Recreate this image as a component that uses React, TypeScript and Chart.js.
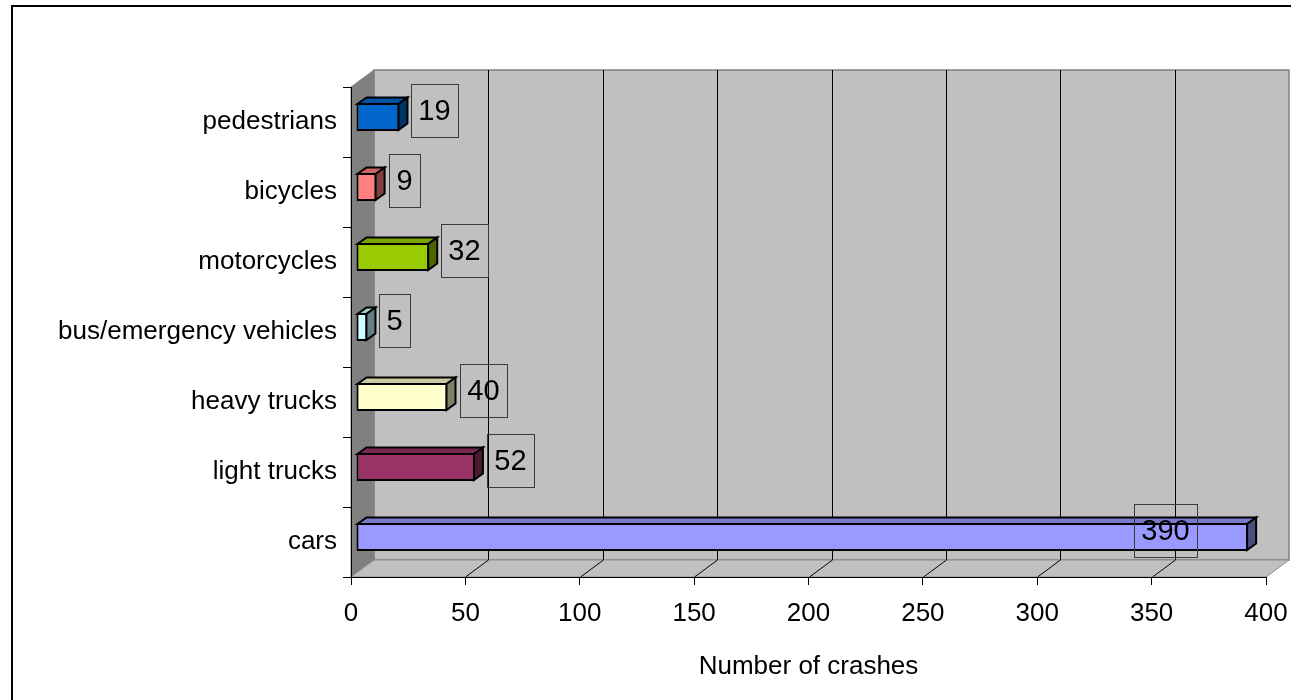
import React, { useEffect, useRef } from 'react';
import { Chart, registerables } from 'chart.js';

Chart.register(...registerables);

// Crash counts by road-user type
const categories = [
  'pedestrians',
  'bicycles',
  'motorcycles',
  'bus/emergency vehicles',
  'heavy trucks',
  'light trucks',
  'cars',
];
const crashes = [19, 9, 32, 5, 40, 52, 390];
const xMin = 0;
const xMax = 400;
const xStep = 50;
const xTitle = 'Number of crashes';

// Front-face colour of each bar
const palette = ['#0066CC', '#FF8080', '#99CC00', '#CCFFFF', '#FFFFCC', '#993366', '#9999FF'];

const FONT = "'Liberation Sans', Arial, Helvetica, sans-serif";
const WALL = { dx: 23, dy: -17 }; // depth of the 3-D box
const BAR_SHIFT = { dx: 5, dy: -5 }; // bars sit a little behind the front plane
const BAR_DEPTH = { dx: 9, dy: -6.5 }; // thickness of each bar in depth

function shade(hex: string, f: number): string {
  const n = parseInt(hex.slice(1), 16);
  const r = Math.round(((n >> 16) & 255) * f);
  const g = Math.round(((n >> 8) & 255) * f);
  const b = Math.round((n & 255) * f);
  return `rgb(${r},${g},${b})`;
}

function poly(ctx: CanvasRenderingContext2D, pts: number[][], fill: string | null, stroke: string | null, lw = 1) {
  ctx.beginPath();
  ctx.moveTo(pts[0][0], pts[0][1]);
  for (let i = 1; i < pts.length; i++) ctx.lineTo(pts[i][0], pts[i][1]);
  ctx.closePath();
  if (fill) {
    ctx.fillStyle = fill;
    ctx.fill();
  }
  if (stroke) {
    ctx.strokeStyle = stroke;
    ctx.lineWidth = lw;
    ctx.stroke();
  }
}

const scenePlugin = {
  id: 'scene3d',
  beforeDraw(chart: any) {
    const { ctx, chartArea: a, scales } = chart;
    const xs = scales.x;
    const { dx, dy } = WALL;
    ctx.save();
    ctx.fillStyle = '#ffffff';
    ctx.fillRect(0, 0, chart.width, chart.height);

    // outer frame
    ctx.strokeStyle = '#000';
    ctx.lineWidth = 2;
    ctx.beginPath();
    ctx.moveTo(12, chart.height + 5);
    ctx.lineTo(12, 6);
    ctx.lineTo(chart.width + 5, 6);
    ctx.stroke();

    const L = a.left, R = a.right, T = a.top, B = a.bottom;
    // back wall
    poly(ctx, [[L + dx, T + dy], [R + dx, T + dy], [R + dx, B + dy], [L + dx, B + dy]], '#C0C0C0', '#808080', 1.5);
    // side wall
    poly(ctx, [[L, T], [L + dx, T + dy], [L + dx, B + dy], [L, B]], '#808080', '#808080', 1);
    // floor
    poly(ctx, [[L, B], [R, B], [R + dx, B + dy], [L + dx, B + dy]], '#C0C0C0', '#8c8c8c', 1);

    // grid lines on the wall and the floor
    ctx.strokeStyle = '#000';
    ctx.lineWidth = 1;
    for (let v = xMin + xStep; v < xMax; v += xStep) {
      const px = Math.round(xs.getPixelForValue(v)) + 0.5;
      ctx.beginPath();
      ctx.moveTo(px + dx, B + dy);
      ctx.lineTo(px + dx, T + dy);
      ctx.stroke();
      ctx.beginPath();
      ctx.moveTo(px, B);
      ctx.lineTo(px + dx, B + dy);
      ctx.stroke();
    }
    ctx.restore();
  },
  beforeDatasetsDraw(chart: any) {
    chart.ctx.save();
    chart.ctx.translate(BAR_SHIFT.dx, BAR_SHIFT.dy);
  },
  afterDatasetsDraw(chart: any) {
    const { ctx, chartArea: a } = chart;
    ctx.restore();
    const meta = chart.getDatasetMeta(0);
    ctx.save();
    ctx.lineJoin = 'miter';
    meta.data.forEach((el: any, i: number) => {
      const { x, y, base, height } = el.getProps(['x', 'y', 'base', 'height'], true);
      const c = palette[i];
      const left = Math.min(base, x) + BAR_SHIFT.dx + 1;
      const right = Math.max(base, x) + BAR_SHIFT.dx - 1;
      const top = y - height / 2 + BAR_SHIFT.dy + 1;
      const bottom = y + height / 2 + BAR_SHIFT.dy - 1;
      const { dx, dy } = BAR_DEPTH;
      poly(ctx, [[left, top], [right, top], [right + dx, top + dy], [left + dx, top + dy]], shade(c, 0.8), '#000', 2);
      poly(ctx, [[right, top], [right + dx, top + dy], [right + dx, bottom + dy], [right, bottom]], shade(c, 0.5), '#000', 2);
    });

    // value labels in boxes
    ctx.font = `29px ${FONT}`;
    ctx.textAlign = 'center';
    ctx.textBaseline = 'middle';
    meta.data.forEach((el: any, i: number) => {
      const { x, y, base } = el.getProps(['x', 'y', 'base'], true);
      const txt = String(crashes[i]);
      const tw = ctx.measureText(txt).width;
      const bw = Math.round(tw + 15);
      const bh = 53;
      const end = Math.max(base, x) + BAR_SHIFT.dx;
      let bx = end + 12;
      if (bx + bw > a.right + WALL.dx) bx = end - 51 - bw;
      const cy = y + BAR_SHIFT.dy - 7;
      const by = Math.round(cy - bh / 2);
      ctx.strokeStyle = '#3a3a3a';
      ctx.lineWidth = 1;
      ctx.strokeRect(Math.round(bx) + 0.5, by + 0.5, bw, bh);
      ctx.fillStyle = '#000';
      ctx.fillText(txt, Math.round(bx) + bw / 2, by + bh / 2 + 1);
    });
    ctx.restore();
  },
};

export default function App() {
  const ref = useRef<HTMLCanvasElement | null>(null);

  useEffect(() => {
    if (!ref.current) return;
    const font = { family: FONT, size: 26 };
    const chart = new Chart(ref.current, {
      type: 'bar',
      data: {
        labels: categories,
        datasets: [
          {
            data: crashes,
            backgroundColor: palette,
            borderColor: '#000',
            borderWidth: 2,
            borderSkipped: false,
            barPercentage: 0.4,
            categoryPercentage: 1,
          },
        ],
      },
      options: {
        indexAxis: 'y',
        responsive: false,
        animation: false,
        devicePixelRatio: 1,
        layout: { padding: { top: 87, right: 25, left: 0, bottom: 0 } },
        plugins: {
          legend: { display: false },
          tooltip: { enabled: false },
        },
        scales: {
          x: {
            type: 'linear',
            min: xMin,
            max: xMax,
            ticks: { stepSize: xStep, font, color: '#000', padding: 13 },
            grid: { drawOnChartArea: false, tickLength: 8, color: '#000' },
            border: { color: '#000', width: 1 },
            title: { display: true, text: xTitle, font, color: '#000', padding: { top: 0, bottom: 18 } },
            afterFit: (s: any) => {
              s.height = 123;
              s.paddingLeft = 0;
              s.paddingRight = 0;
            },
          },
          y: {
            type: 'category',
            ticks: { font, color: '#000', padding: 6 },
            grid: { drawOnChartArea: false, tickLength: 8, color: '#000', offset: true },
            border: { color: '#000', width: 1 },
            afterFit: (s: any) => {
              s.width = 351;
              s.paddingTop = 0;
              s.paddingBottom = 0;
            },
          },
        },
      } as any,
      plugins: [scenePlugin],
    });
    return () => chart.destroy();
  }, []);

  return (
    <div style={{ position: 'absolute', left: 0, top: 0, width: 1291, height: 700 }}>
      <canvas ref={ref} width={1291} height={700} style={{ display: 'block' }} />
    </div>
  );
}
